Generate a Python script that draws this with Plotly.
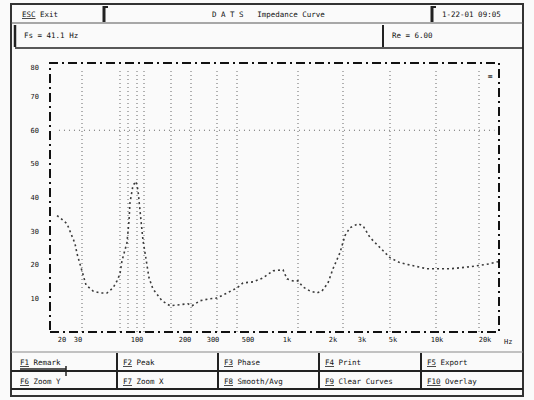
import plotly.graph_objects as go

W, H = 534, 400

# ---- data ----
curve_x = [7, 10, 17, 22, 25, 27, 30, 32, 36, 43, 50, 57, 63, 67, 70, 72, 77, 79, 80, 83, 86, 88, 89,
           91, 93, 95, 97, 99, 103, 112, 120, 130, 138, 142, 150, 160, 167, 177, 187, 193, 203, 213,
           223, 233, 237, 243, 248, 253, 260, 267, 272, 278, 283, 290, 295, 300, 308, 313, 320, 330,
           340, 350, 363, 377, 400, 420, 440, 448]
curve_y = [34.6, 34.0, 32.2, 28.7, 26.3, 23.3, 20.3, 17.6, 14.0, 12.2, 11.6, 11.6, 13.1, 15.2, 17.3,
           21.2, 26.6, 33.1, 38.5, 43.6, 44.8, 42.1, 39.1, 32.2, 27.2, 23.6, 19.1, 16.1, 12.8, 9.3,
           7.8, 8.1, 8.4, 7.8, 9.3, 9.9, 10.1, 11.6, 13.1, 14.6, 14.9, 16.1, 18.2, 18.5, 15.8, 15.2,
           15.2, 13.4, 12.2, 11.6, 12.2, 14.6, 18.8, 23.6, 28.7, 31.0, 32.2, 31.6, 28.1, 25.1, 22.1,
           20.6, 19.7, 18.8, 18.8, 19.4, 20.3, 20.9]

x_tick_vals = [12, 28, 87, 135, 163, 198, 237, 283, 312, 343, 387, 435]
x_tick_text = ["20", "30", "100", "200", "300", "500", "1k", "2k", "3k", "5k", "10k", "20k"]
x_grid_vals = [32, 70, 78, 87, 94, 121, 141, 167, 187, 248, 293, 340, 386, 429]

y_tick_vals = [78.5, 70, 60, 50, 40, 30, 20, 10]
y_tick_text = ["80", "70", "60", "50", "40", "30", "20", "10"]
y_ref_line = 60

header_left = "ESC Exit"
header_title = "D A T S   Impedance Curve"
header_right = "1-22-01 09:05"
info_left = "Fs = 41.1 Hz"
info_right = "Re = 6.00"
fkeys_row1 = ["F1 Remark", "F2 Peak", "F3 Phase", "F4 Print", "F5 Export"]
fkeys_row2 = ["F6 Zoom Y", "F7 Zoom X", "F8 Smooth/Avg", "F9 Clear Curves", "F10 Overlay"]

FONT = "DejaVu Sans Mono"


def px(x):
    return x / W


def py(y):
    return 1 - y / H


fig = go.Figure()
fig.add_trace(go.Scatter(x=curve_x, y=curve_y, mode="lines",
                         line=dict(color="#3a3a3a", width=1.6, dash="2px,3px"),
                         hoverinfo="skip", showlegend=False))

shapes = []
for gx in x_grid_vals:
    shapes.append(dict(type="line", xref="x", yref="y domain", x0=gx, x1=gx, y0=0.0, y1=0.97,
                       line=dict(color="#666", width=1, dash="1px,3px"), layer="below"))
shapes.append(dict(type="line", xref="x domain", yref="y", x0=0.02, x1=0.99, y0=y_ref_line, y1=y_ref_line,
                   line=dict(color="#666", width=1, dash="1px,4px"), layer="below"))
shapes.append(dict(type="rect", xref="x domain", yref="y domain", x0=0, x1=1, y0=0, y1=1,
                   line=dict(color="#111", width=2, dash="9px,4px,2px,4px")))
shapes.append(dict(type="rect", xref="paper", yref="paper", x0=px(11), x1=px(523), y0=py(4), y1=py(396),
                   line=dict(color="#333", width=2)))


def hline(x0, x1, y, w=1.5, c="#222"):
    shapes.append(dict(type="line", xref="paper", yref="paper", x0=px(x0), x1=px(x1), y0=py(y), y1=py(y),
                       line=dict(color=c, width=w)))


def vline(x, y0, y1, w=1.5, c="#222"):
    shapes.append(dict(type="line", xref="paper", yref="paper", x0=px(x), x1=px(x), y0=py(y0), y1=py(y1),
                       line=dict(color=c, width=w)))


hline(11, 523, 23, 1.2, "#555")
vline(104, 6, 22, 3)
hline(104, 108, 7, 2)
vline(432, 6, 22, 3)
hline(432, 436, 7, 2)
vline(15, 25, 47, 2.5)
vline(383, 25, 47, 2)
hline(15, 523, 48, 1.5)
hline(11, 523, 352, 1, "#888")
hline(11, 523, 371, 2)
hline(11, 523, 389, 2)
for sx in [117, 218, 319, 421]:
    vline(sx, 353, 389, 2)
vline(66, 366, 376, 1.5)
hline(20, 66, 369, 1.5)

annotations = []


def text(x, y, s, anchor="left", size=7.5):
    annotations.append(dict(xref="paper", yref="paper", x=px(x), y=py(y), text=s, showarrow=False,
                            xanchor=anchor, yanchor="middle",
                            font=dict(family=FONT, size=size, color="#111")))


text(20, 14, "<u>ESC</u> " + header_left.split(" ", 1)[1])
text(268, 14, header_title, "center")
text(440, 14, header_right)
text(22, 35, info_left)
text(390, 35, info_right)
x_starts = [18, 121, 222, 323, 425]
for xs, s in zip(x_starts, fkeys_row1):
    k, rest = s.split(" ", 1)
    text(xs, 362, "<u>" + k + "</u> " + rest)
for xs, s in zip(x_starts, fkeys_row2):
    k, rest = s.split(" ", 1)
    text(xs, 381, "<u>" + k + "</u> " + rest)
text(508, 342, "Hz", "center", 7)
annotations.append(dict(xref="x", yref="y", x=440, y=76, text="≡", showarrow=False,
                        font=dict(family=FONT, size=8, color="#333")))

fig.update_layout(
    width=W, height=H,
    margin=dict(l=0, r=0, t=0, b=0),
    paper_bgcolor="#fafafa", plot_bgcolor="#fafafa",
    showlegend=False,
    shapes=shapes, annotations=annotations,
    xaxis=dict(domain=[px(50), px(499)], range=[0, 449], showgrid=False, zeroline=False,
               tickvals=x_tick_vals, ticktext=x_tick_text, ticks="", ticklabelstandoff=2,
               tickfont=dict(family=FONT, size=7, color="#111"), fixedrange=True),
    yaxis=dict(domain=[py(332), py(63)], range=[0, 80], showgrid=False, zeroline=False,
               tickvals=y_tick_vals, ticktext=y_tick_text, ticks="", ticklabelstandoff=10,
               tickfont=dict(family=FONT, size=7, color="#111"), fixedrange=True),
)

fig.write_html("out.html", config={"displayModeBar": False},
               post_script="document.body.style.margin='0';document.body.style.overflow='hidden';")
